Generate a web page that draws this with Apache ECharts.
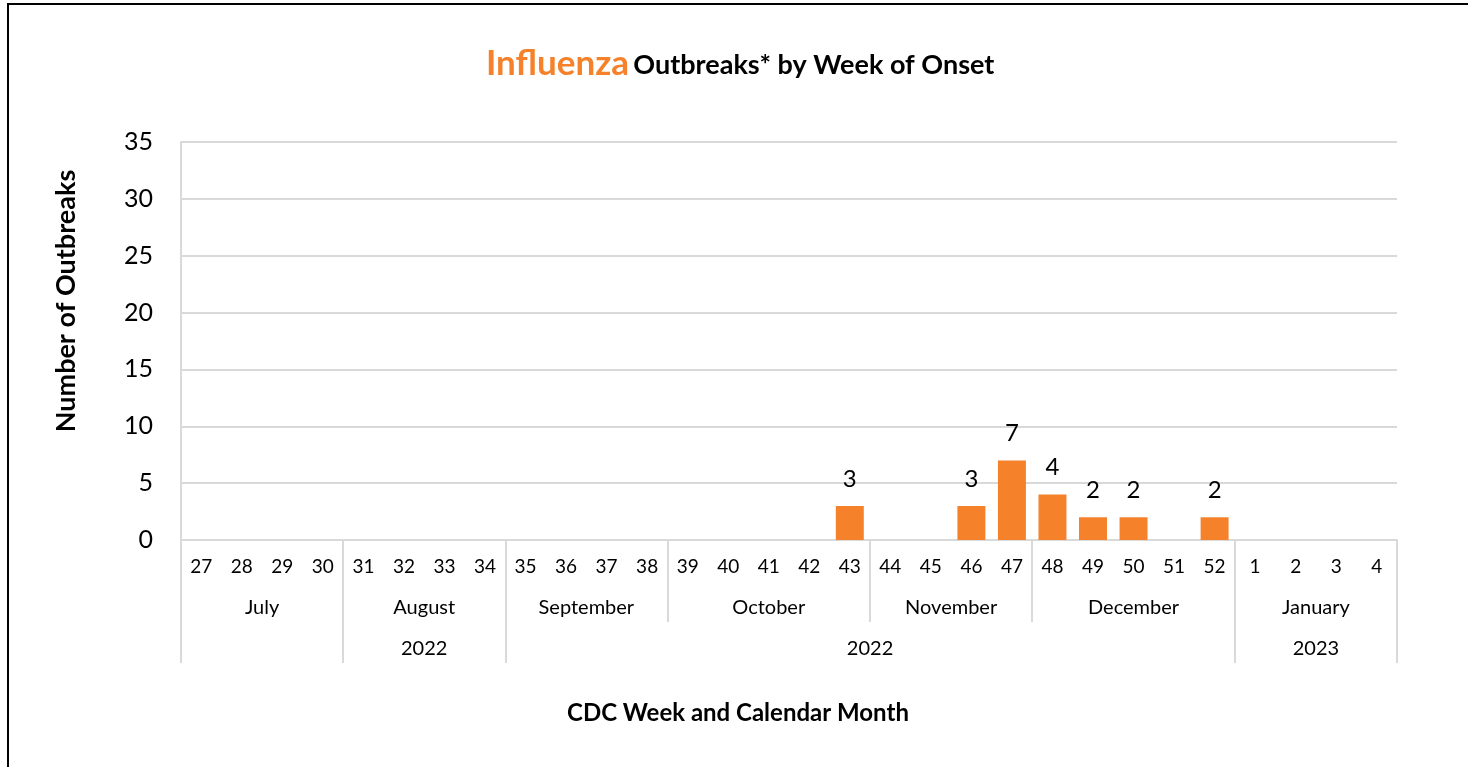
<!DOCTYPE html>
<html>
<head>
<meta charset="utf-8">
<script src="https://cdn.jsdelivr.net/npm/echarts@6/dist/echarts.min.js"></script>
<style>
  html, body { margin: 0; padding: 0; background: #fff; overflow: hidden; }
  #chart { width: 1468px; height: 767px; }
  /* chart frame: only the left and top edges are in view */
  #frame {
    position: absolute; left: 7px; top: 3px; width: 2000px; height: 2000px;
    border-left: 2px solid #000; border-top: 2px solid #000;
    pointer-events: none; z-index: 10;
  }
</style>
</head>
<body>
<div id="chart"></div>
<div id="frame"></div>
<script>
// CDC weeks, in order on the axis
const weeks = ['27', '28', '29', '30', '31', '32', '33', '34', '35', '36', '37', '38',
    '39', '40', '41', '42', '43', '44', '45', '46', '47', '48', '49', '50', '51', '52',
    '1', '2', '3', '4']
// outbreaks per week (blank weeks have no bar)
const outbreaks = [null, null, null, null, null, null, null, null, null, null, null, null,
    null, null, null, null, 3, null, null, 3, 7, 4, 2, 2, null, 2,
    null, null, null, null]
// month groups and how many weeks each covers
const months = ['July', 'August', 'September', 'October', 'November', 'December', 'January']
const monthWeeks = [4, 4, 4, 5, 4, 5, 4]
// year groups and how many weeks each covers
const years = ['', '2022', '2022', '2023']
const yearWeeks = [4, 4, 18, 4]
const yTicks = [0, 5, 10, 15, 20, 25, 30, 35]

const FONT = 'Lato'
const GREY = '#d9d9d9'
const ORANGE = '#f5822a'

// boundaries and centres of the grouped rows, in week units
function groupLayout(counts) {
    let bounds = [0]
    let centres = []
    counts.forEach(n => {
        const start = bounds[bounds.length - 1]
        centres.push(start + n / 2)
        bounds.push(start + n)
    })
    return {bounds, centres}
}
const monthRow = groupLayout(monthWeeks)
const yearRow = groupLayout(yearWeeks)

function groupAxis(row, names, tickLen, margin) {
    return {
        type: 'value',
        position: 'bottom',
        min: 0,
        max: weeks.length,
        axisLine: {show: false},
        splitLine: {show: false},
        axisTick: {
            show: true,
            inside: false,
            length: tickLen,
            customValues: row.bounds,
            lineStyle: {color: GREY, width: 2}
        },
        axisLabel: {
            show: true,
            customValues: row.centres,
            margin: margin,
            fontFamily: FONT,
            fontSize: 20,
            color: '#000',
            formatter: function (v) {
                const i = row.centres.indexOf(v)
                return i >= 0 ? names[i] : ''
            }
        }
    }
}

const chart = echarts.init(document.getElementById('chart'))

const option = {
    backgroundColor: '#fff',
    animation: false,
    textStyle: {fontFamily: FONT},
    title: [
        {
            text: '{a|Influenza} {b|Outbreaks* by Week of Onset}',
            left: 486,
            top: 46,
            padding: 0,
            textStyle: {
                rich: {
                    a: {fontFamily: FONT, fontSize: 35, fontWeight: 'bold', color: ORANGE},
                    b: {fontFamily: FONT, fontSize: 27, fontWeight: 'bold', color: '#000', padding: [4, 0, 0, 0]}
                }
            }
        },
        {
            text: 'CDC Week and Calendar Month',
            left: 567,
            top: 701,
            padding: 0,
            textStyle: {fontFamily: FONT, fontSize: 24, fontWeight: 'bold', color: '#000'}
        }
    ],
    grid: {left: 181, right: 71, top: 142, bottom: 227, containLabel: false},
    xAxis: [
        {
            type: 'category',
            data: weeks,
            position: 'bottom',
            axisLine: {show: true, lineStyle: {color: GREY, width: 2}},
            axisTick: {show: false},
            axisLabel: {interval: 0, margin: 17, fontFamily: FONT, fontSize: 19, color: '#000'}
        },
        groupAxis(monthRow, months, 82, 58),
        groupAxis(yearRow, years, 123, 99)
    ],
    yAxis: {
        type: 'value',
        min: 0,
        max: 35,
        interval: 5,
        name: 'Number of Outbreaks',
        nameLocation: 'middle',
        nameGap: 101,
        nameTextStyle: {fontFamily: FONT, fontSize: 27, fontWeight: 'bold', color: '#000', padding: [0, 0, 0, 80]},
        axisLine: {show: true, lineStyle: {color: GREY, width: 2}},
        axisTick: {show: false},
        splitLine: {lineStyle: {color: GREY, width: 2}},
        axisLabel: {
            margin: 28,
            fontFamily: FONT,
            fontSize: 25,
            color: '#000',
            customValues: yTicks
        }
    },
    series: [
        {
            name: 'Outbreaks',
            type: 'bar',
            xAxisIndex: 0,
            data: outbreaks,
            barCategoryGap: '31%',
            itemStyle: {color: ORANGE},
            label: {
                show: true,
                position: 'top',
                distance: 15,
                fontFamily: FONT,
                fontSize: 24,
                color: '#000'
            }
        }
    ]
}

chart.setOption(option)
</script>
</body>
</html>
